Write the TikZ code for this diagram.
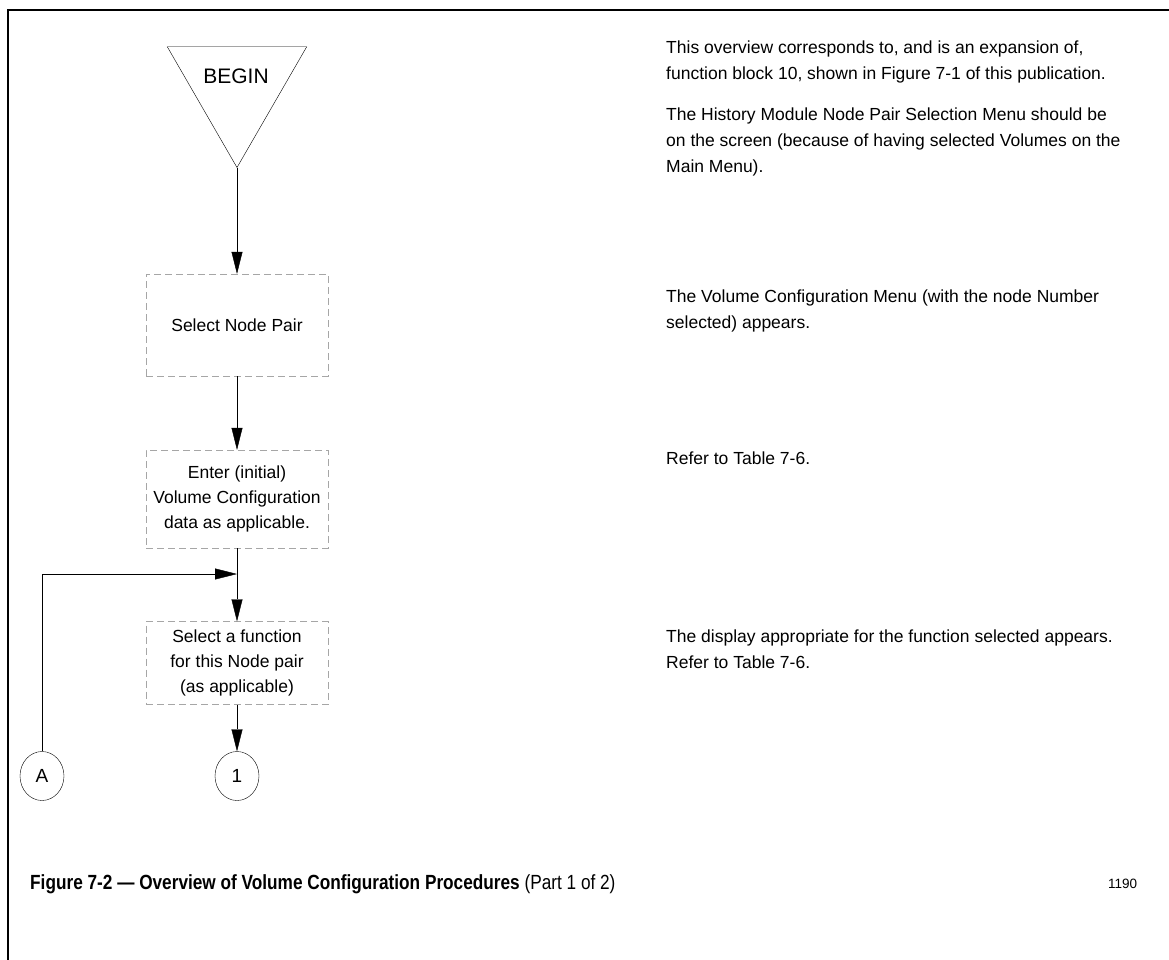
\documentclass[tikz,border=0pt]{standalone}
\usepackage{fontspec}
\setmainfont{Liberation Sans}
\newfontfamily\captionfont[FakeStretch=0.84]{Liberation Sans}
\usetikzlibrary{arrows.meta,shapes.geometric,positioning}

\tikzset{
    stepbox/.style={
        draw=gray!70,
        dash pattern=on 7pt off 4pt,
        minimum width=182pt,
        inner sep=0pt,
        align=center,
        font=\fontsize{17.5}{25}\selectfont,
        },
    flow/.style={-{Triangle[length=22pt,width=11pt]}},
    connector/.style={
        ellipse,
        draw,
        minimum width=44pt,
        minimum height=49pt,
        inner sep=0pt,
        font=\fontsize{19}{20}\selectfont,
        },
    note/.style={anchor=base west, inner sep=0pt, font=\fontsize{17.5}{26}\selectfont},
}

\begin{document}
\begin{tikzpicture}[x=1pt,y=-1pt]

\useasboundingbox (0,0) rectangle (1169,960);

% Frame
\draw[line width=2.8pt] (8,960) -- (8,10) -- (1169,10);

% Begin triangle
\node[
    draw,
    regular polygon,
    regular polygon sides=3,
    shape border rotate=180,
    minimum size=161pt,
    inner sep=0pt,
    ] (begin) at (237,87) {};
\node[font=\fontsize{21}{22}\selectfont] (begintext) at (236,76) {BEGIN};

% Steps
\node[stepbox, minimum height=102pt] (pair) at (237,325) {Select Node Pair};
\node[stepbox, minimum height=98pt] (config) at (237,499)
    {Enter (initial)\\Volume Configuration\\data as applicable.};
\node[stepbox, minimum height=83pt] (func) at (237,663)
    {Select a function\\for this Node pair\\(as applicable)};

% Off-page connectors
\node[connector] (loopA) at (42,776) {A};
\node[connector] (next) at (237,776) {1};

% Flow lines
\coordinate (merge) at (237,574);
\draw[flow] (begin.corner 1) -- (pair);
\draw[flow] (pair) -- (config);
\draw (config) -- (merge);
\draw[flow] (merge) -- (func);
\draw[flow] (loopA) |- (merge);
\draw[flow] (func) -- (next);

% Notes on the right
\foreach \y/\txt [count=\i] in {
    54/{This overview corresponds to, and is an expansion of,},
    80/{function block 10, shown in Figure 7-1 of this publication.},
    121/{The History Module Node Pair Selection Menu should be},
    147/{on the screen (because of having selected Volumes on the},
    173/{Main Menu).},
    302/{The Volume Configuration Menu (with the node Number},
    328/{selected) appears.},
    464/{Refer to Table 7-6.},
    642/{The display appropriate for the function selected appears.},
    668/{Refer to Table 7-6.}}
    \node[note] (note\i) at (666,\y) {\txt};

% Caption
\node[anchor=base west, inner sep=0pt, font=\captionfont\fontsize{20.5}{22}\selectfont] (caption) at (30,889)
    {\textbf{Figure 7-2 — Overview of Volume Configuration Procedures} (Part 1 of 2)};
\node[anchor=base west, inner sep=0pt, font=\fontsize{13.5}{15}\selectfont] (fignum) at (1108,888) {1190};

\end{tikzpicture}
\end{document}
